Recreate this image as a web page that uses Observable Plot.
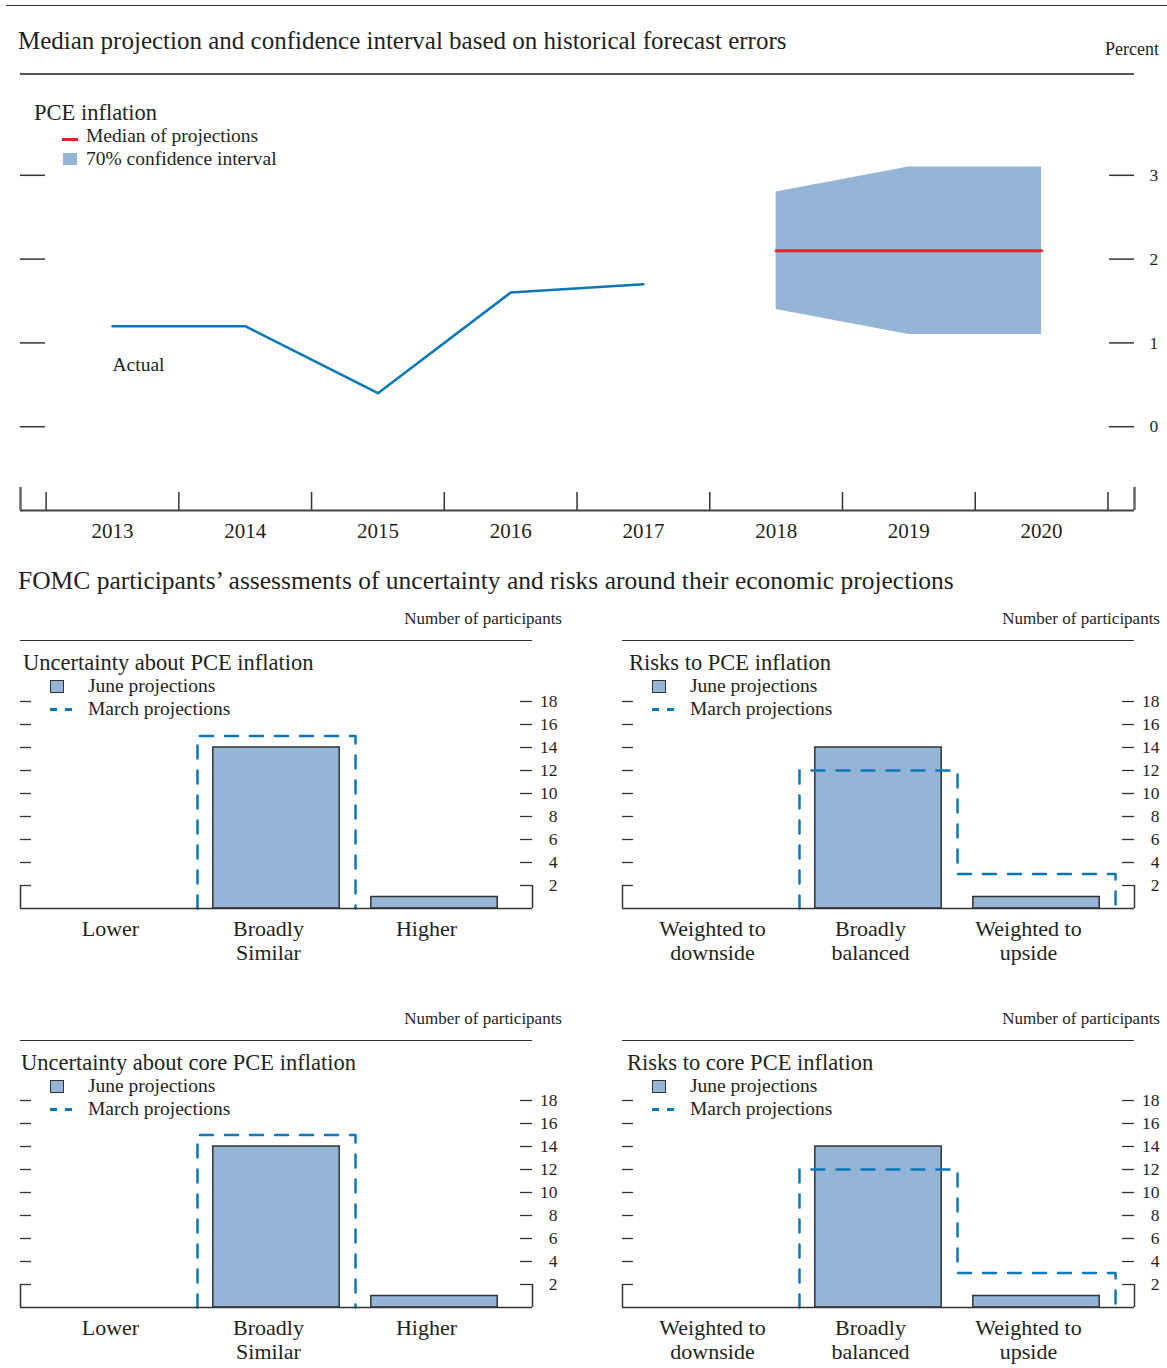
<!DOCTYPE html>
<html><head><meta charset="utf-8">
<script src="https://cdn.jsdelivr.net/npm/d3@7"></script>
<script src="https://cdn.jsdelivr.net/npm/@observablehq/plot@0.6"></script>
<style>
body{margin:0;background:#fff;}
#root{position:relative;width:1167px;height:1368px;font-family:"Liberation Serif","Times New Roman",serif;color:#231f20;overflow:hidden;background:#fff;}
.t{position:absolute;white-space:nowrap;line-height:1;}
.abs{position:absolute;}
.plot{position:absolute;}
</style></head><body><div id="root"></div>
<script>
// ---------- data ----------
const actualYears = [2013, 2014, 2015, 2016, 2017];
const actualValues = [1.2, 1.2, 0.4, 1.6, 1.7];
const projYears = [2018, 2019, 2020];
const medianValues = [2.1, 2.1, 2.1];
const ciLow = [1.4, 1.1, 1.1];
const ciHigh = [2.8, 3.1, 3.1];
const yearLabels = [2013, 2014, 2015, 2016, 2017, 2018, 2019, 2020];
const yearBoundaries = [2012.5, 2013.5, 2014.5, 2015.5, 2016.5, 2017.5, 2018.5, 2019.5, 2020.5];
const percentTicks = [0, 1, 2, 3];

const uncertaintyCats = ["Lower", "Broadly\nSimilar", "Higher"];
const riskCats = ["Weighted to\ndownside", "Broadly\nbalanced", "Weighted to\nupside"];
const uncPceJune = [0, 14, 1];
const uncPceMarch = [0, 15, 0];
const riskPceJune = [0, 14, 1];
const riskPceMarch = [0, 12, 3];
const uncCoreJune = [0, 14, 1];
const uncCoreMarch = [0, 15, 0];
const riskCoreJune = [0, 14, 1];
const riskCoreMarch = [0, 12, 3];
const countTicks = [2, 4, 6, 8, 10, 12, 14, 16, 18];

// ---------- styles ----------
const INK = "#231f20";
const BAND = "#95b5d6";
const LINEBLUE = "#0b77b5";
const RED = "#e2232a";
const FONT = "Liberation Serif, Times New Roman, serif";

const root = document.getElementById("root");
function text(str, left, centerY, size, extra = {}) {
  const d = document.createElement("div");
  d.className = "t";
  d.textContent = str;
  if (left != null) d.style.left = left + "px";
  d.style.top = (centerY - size / 2) + "px";
  d.style.fontSize = size + "px";
  Object.assign(d.style, extra);
  root.appendChild(d);
  return d;
}
function box(left, topPx, w, h, style = {}) {
  const d = document.createElement("div");
  d.className = "abs";
  Object.assign(d.style, {left: left + "px", top: topPx + "px", width: w + "px", height: h + "px"}, style);
  root.appendChild(d);
  return d;
}
function place(svg, left, topPx) {
  const wrap = document.createElement("div");
  wrap.className = "plot";
  wrap.style.left = left + "px";
  wrap.style.top = topPx + "px";
  wrap.appendChild(svg);
  root.appendChild(wrap);
}

// ---------- top chart ----------
const xDom = [2012.307, 2020.70];
const actual = actualYears.map((y, i) => ({year: y, value: actualValues[i]}));
const proj = projYears.map((y, i) => ({year: y, median: medianValues[i], lo: ciLow[i], hi: ciHigh[i]}));

const topChart = Plot.plot({
  width: 1167, height: 470,
  marginTop: 11, marginBottom: 40, marginLeft: 20, marginRight: 33,
  x: {domain: xDom, axis: null},
  y: {domain: [-1, 4], axis: null},
  style: {fontFamily: FONT, fontSize: "17px", color: INK, background: "transparent", overflow: "visible"},
  marks: [
    Plot.areaY(proj, {x: "year", y1: "lo", y2: "hi", fill: BAND}),
    Plot.lineY(proj, {x: "year", y: "median", stroke: RED, strokeWidth: 3}),
    Plot.line(actual, {x: "year", y: "value", stroke: LINEBLUE, strokeWidth: 2.5}),
    Plot.text([{year: actualYears[0], y: 0.74, label: "Actual"}], {x: "year", y: "y", text: "label", textAnchor: "start", fontSize: 19.5, fill: INK}),
    Plot.ruleY([-1], {stroke: "#444", strokeWidth: 2}),
    Plot.ruleX(yearBoundaries, {insetTop: 401, stroke: "#333", strokeWidth: 1.5}),
    Plot.ruleX(xDom, {insetTop: 396, stroke: "#666", strokeWidth: 2.5}),
    Plot.ruleY(percentTicks, {insetRight: 1089, stroke: "#333", strokeWidth: 1.5}),
    Plot.ruleY(percentTicks, {insetLeft: 1089, stroke: "#333", strokeWidth: 1.5}),
    Plot.text(percentTicks, {y: d => d, text: d => String(d), frameAnchor: "right", dx: 15, textAnchor: "start", fontSize: 17.5, fill: INK}),
    Plot.text(yearLabels, {x: d => d, text: d => String(d), frameAnchor: "bottom", dy: 27, fontSize: 21, fill: INK})
  ]
});
place(topChart, 0, 80);

// top texts and rules
box(6, 5, 1161, 0, {borderTop: "1.5px solid #333"});
text("Median projection and confidence interval based on historical forecast errors", 18, 40, 25);
text("Percent", null, 49, 18, {right: "8px"});
box(20, 73, 1114, 0, {borderTop: "2px solid #555"});
text("PCE inflation", 34, 113, 22.5);
box(62, 138, 16, 3, {background: RED});
text("Median of projections", 86, 136, 19.5);
box(63, 153, 14, 12, {background: BAND});
text("70% confidence interval", 86, 159, 19.5);

text("FOMC participants\u2019 assessments of uncertainty and risks around their economic projections", 18, 581, 25.5);

// ---------- bar panels ----------
function stepRuns(vals) {
  const pts = [[-0.5, 0]];
  vals.forEach((v, i) => { pts.push([i - 0.5, v]); pts.push([i + 0.5, v]); });
  pts.push([vals.length - 0.5, 0]);
  const out = [];
  let run = 0, prevKept = false;
  for (let k = 0; k < pts.length - 1; k++) {
    const a = pts[k], b = pts[k + 1];
    if (a[0] === b[0] && a[1] === b[1]) continue;
    if (a[1] === 0 && b[1] === 0) { prevKept = false; continue; }
    if (!prevKept) { run++; out.push({x: a[0], y: a[1], run}); }
    out.push({x: b[0], y: b[1], run});
    prevKept = true;
  }
  return out;
}

const bDom = [-0.62, 2.62];
function barPanel(cats, june, march, width, ml, mr) {
  const idx = cats.map((c, i) => i);
  return Plot.plot({
    width, height: 300,
    marginTop: 21, marginBottom: 72, marginLeft: ml, marginRight: mr,
    x: {domain: bDom, axis: null},
    y: {domain: [0, 18], axis: null},
    style: {fontFamily: FONT, fontSize: "17px", color: INK, background: "transparent", overflow: "visible"},
    marks: [
      Plot.rect(idx.filter(i => june[i] > 0), {x1: i => i - 0.4, x2: i => i + 0.4, y1: 0, y2: i => june[i], fill: BAND, stroke: "#333", strokeWidth: 1.5}),
      Plot.line(stepRuns(march), {x: "x", y: "y", z: "run", stroke: "#0a78b8", strokeWidth: 2.5, strokeDasharray: "13,12"}),
      Plot.ruleY([0], {stroke: "#333", strokeWidth: 1.5}),
      Plot.ruleY(countTicks, {insetRight: 501, stroke: "#333", strokeWidth: 1.3}),
      Plot.ruleY(countTicks, {insetLeft: 500, stroke: "#333", strokeWidth: 1.3}),
      Plot.ruleX(bDom, {y1: 0, y2: 2, stroke: "#333", strokeWidth: 1.5}),
      Plot.text(countTicks, {y: d => d, text: d => String(d), frameAnchor: "right", dx: 25, textAnchor: "end", fontSize: 17.5, fill: INK}),
      Plot.text(idx, {x: i => i, text: i => cats[i], frameAnchor: "bottom", dx: -8, dy: 10, lineAnchor: "top", lineHeight: 1.09, fontSize: 22, fill: INK})
    ]
  });
}

function panelText(title, oy, titleLeft, ruleLeft, ruleRight, legLeft, numRight) {
  text("Number of participants", null, 618 + oy, 17, {right: (1167 - numRight) + "px"});
  box(ruleLeft, 640 + oy, ruleRight - ruleLeft, 0, {borderTop: "1.5px solid #333"});
  text(title, titleLeft, 663 + oy, 22.5);
  box(legLeft, 680 + oy, 12, 11, {background: BAND, border: "1.5px solid #333"});
  text("June projections", legLeft + 38, 686 + oy, 19.5);
  box(legLeft, 708 + oy, 7, 2.5, {background: "#0a78b8"});
  box(legLeft + 15, 708 + oy, 7, 2.5, {background: "#0a78b8"});
  text("March projections", legLeft + 38, 709 + oy, 19.5);
}

place(barPanel(uncertaintyCats, uncPceJune, uncPceMarch, 580, 20, 48), 0, 680);
place(barPanel(riskCats, riskPceJune, riskPceMarch, 567, 22, 33), 600, 680);
place(barPanel(uncertaintyCats, uncCoreJune, uncCoreMarch, 580, 20, 48), 0, 1079);
place(barPanel(riskCats, riskCoreJune, riskCoreMarch, 567, 22, 33), 600, 1079);

panelText("Uncertainty about PCE inflation", 0, 23, 20, 532, 50, 562);
panelText("Risks to PCE inflation", 0, 629, 622, 1134, 652, 1160);
panelText("Uncertainty about core PCE inflation", 400, 21, 20, 532, 50, 562);
panelText("Risks to core PCE inflation", 400, 627, 622, 1134, 652, 1160);
</script></body></html>
